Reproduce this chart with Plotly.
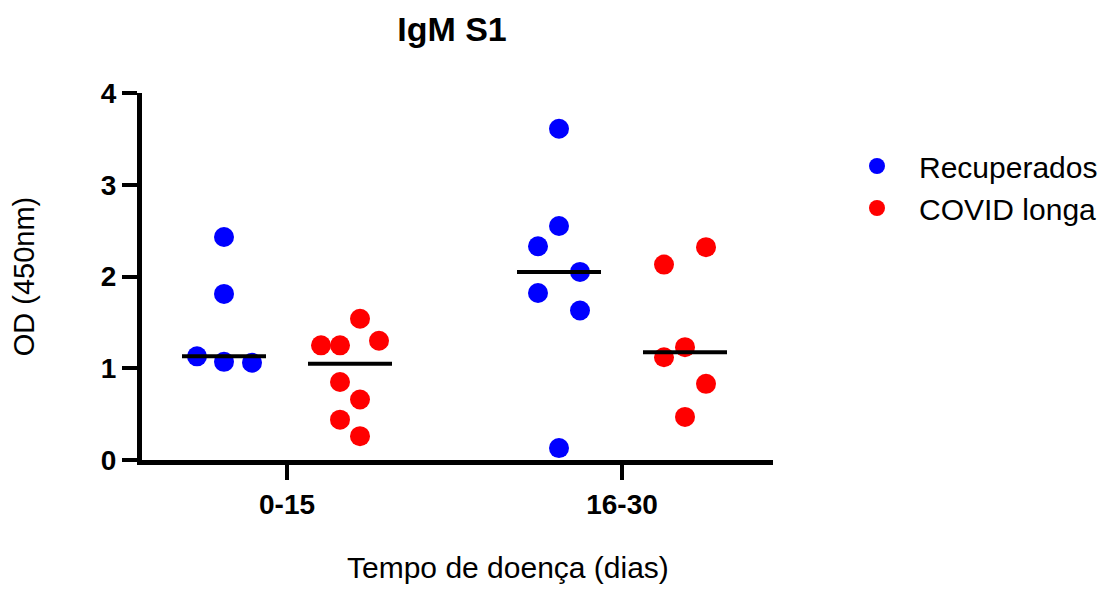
import numpy as np
import plotly.graph_objects as go

# ---- data ----
categories = ["0-15", "16-30"]
recuperados_0_15 = [2.43, 1.81, 1.13, 1.07, 1.06]
recuperados_16_30 = [3.61, 2.55, 2.33, 2.05, 1.82, 1.63, 0.13]
covid_longa_0_15 = [1.54, 1.25, 1.25, 1.30, 0.85, 0.66, 0.44, 0.26]
covid_longa_16_30 = [2.32, 2.13, 1.23, 1.12, 0.83, 0.47]
y_ticks = [0, 1, 2, 3, 4]

# ---- layout helpers (scatter-dot spreading, in pixels) ----
PX_PER_CAT = 335.0
GROUP_OFFSET_PX = 63
jitter_rec_0_15 = [0, 0, -27, 0, 28]
jitter_cov_0_15 = [10, -29, -10, 29, -10, 10, -10, 10]
jitter_rec_16_30 = [0, 0, -21, 21, -21, 21, 0]
jitter_cov_16_30 = [21, -21, 0, -21, 21, 0]
MEDIAN_HALF_PX = 42

FONT = "Liberation Sans, Arial, sans-serif"

# figure size / plot area (page has an 8px body margin)
W, H = 1110, 582
L, R, T, B = 134, 345, 85, 130
PW, PH = W - L - R, H - T - B

series = [
    ("Recuperados", "#0000FF", -GROUP_OFFSET_PX,
     [recuperados_0_15, recuperados_16_30], [jitter_rec_0_15, jitter_rec_16_30]),
    ("COVID longa", "#FF0000", GROUP_OFFSET_PX,
     [covid_longa_0_15, covid_longa_16_30], [jitter_cov_0_15, jitter_cov_16_30]),
]

fig = go.Figure()
for name, color, goff, vals_list, jit_list in series:
    xs, ys = [], []
    for ci, (vals, jit) in enumerate(zip(vals_list, jit_list)):
        for v, j in zip(vals, jit):
            xs.append(ci + (goff + j) / PX_PER_CAT)
            ys.append(v)
    fig.add_trace(go.Scatter(
        x=xs, y=ys, mode="markers", name=name,
        marker=dict(color=color, size=20, line=dict(width=0)),
    ))

# median lines
for name, color, goff, vals_list, jit_list in series:
    for ci, vals in enumerate(vals_list):
        med = float(np.median(vals))
        c = ci + goff / PX_PER_CAT
        h = MEDIAN_HALF_PX / PX_PER_CAT
        fig.add_trace(go.Scatter(
            x=[c - h, c + h], y=[med, med], mode="lines",
            line=dict(color="black", width=4), showlegend=False, hoverinfo="skip",
        ))

# category 0 sits 287px from page left (page offset 8)
x_left = -(287 - 8 - L) / PX_PER_CAT
x_right = x_left + PW / PX_PER_CAT

fig.update_layout(
    width=W, height=H,
    margin=dict(l=L, r=R, t=T, b=B, autoexpand=False),
    paper_bgcolor="white", plot_bgcolor="white",
    font=dict(family=FONT, color="black"),
    title=dict(text="<b>IgM S1</b>", x=(444) / W, xanchor="center",
               y=1 - 33 / H, yanchor="bottom", font=dict(size=34, family=FONT)),
    legend=dict(x=(693) / PW, xanchor="left", y=(PH + T - 132) / PH, yanchor="top",
                font=dict(size=30, family=FONT), bgcolor="rgba(0,0,0,0)",
                tracegroupgap=0, itemwidth=74),
    showlegend=True,
    annotations=[dict(
        text="Tempo de doença (dias)", xref="paper", yref="paper",
        x=(508 - 8 - L) / PW, xanchor="center", y=-(586 - 8 - T - PH) / PH, yanchor="bottom",
        showarrow=False, font=dict(size=30, family=FONT),
    )],
)
fig.update_xaxes(
    range=[x_left, x_right], tickvals=list(range(len(categories))), ticktext=categories,
    showgrid=False, zeroline=False, showline=True, linecolor="black", linewidth=5,
    ticks="outside", ticklen=15, tickwidth=4, tickcolor="black",
    tickfont=dict(size=28, family=FONT, weight="bold"),
)
fig.update_yaxes(
    range=[0, 4], tickvals=y_ticks,
    showgrid=False, zeroline=False, showline=True, linecolor="black", linewidth=5,
    ticks="outside", ticklen=15, tickwidth=4, tickcolor="black",
    tickfont=dict(size=28, family=FONT, weight="bold"),
    title=dict(text="OD (450nm)", font=dict(size=29, family=FONT), standoff=60),
)

fig.write_html("out.html")
